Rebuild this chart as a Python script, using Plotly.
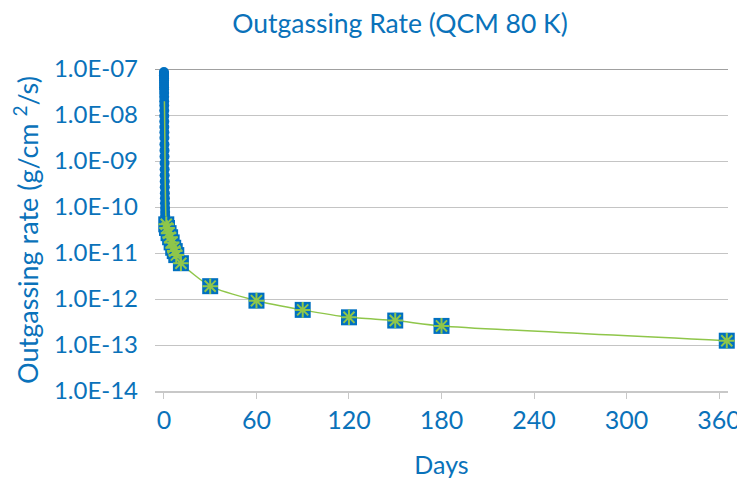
import plotly.graph_objects as go

# ---- data ----
circle_days = [0.00, 0.01, 0.02, 0.03, 0.04, 0.05, 0.06, 0.07, 0.08, 0.09, 0.10,
               0.12, 0.14, 0.16, 0.18, 0.20, 0.22, 0.24, 0.26, 0.28, 0.30,
               0.33, 0.36, 0.39, 0.42, 0.45, 0.48, 0.52, 0.56, 0.60, 0.64,
               0.68, 0.72, 0.76, 0.80, 0.85, 0.90, 0.95, 1.00, 1.05, 1.10,
               1.15, 1.20, 1.25, 1.30]
circle_rate = [8.6e-8, 8.2e-8, 7.8e-8, 7.3e-8, 6.8e-8, 6.2e-8, 5.6e-8, 5.0e-8, 4.5e-8, 4.0e-8, 3.6e-8,
               3.0e-8, 2.5e-8, 2.0e-8, 1.6e-8, 1.25e-8, 9.5e-9, 7.2e-9, 5.5e-9, 4.2e-9, 3.2e-9,
               2.3e-9, 1.7e-9, 1.25e-9, 9.0e-10, 6.6e-10, 4.9e-10, 3.6e-10, 2.7e-10, 2.0e-10, 1.55e-10,
               1.2e-10, 9.5e-11, 7.8e-11, 6.5e-11, 5.6e-11, 4.9e-11, 4.4e-11, 4.0e-11, 3.7e-11, 3.4e-11,
               3.2e-11, 3.0e-11, 2.9e-11, 2.8e-11]

early_line_days = [0.3, 0.4, 0.5, 0.6, 0.7, 0.8, 1.0, 1.2]
early_line_rate = [2.0e-8, 1.2e-8, 6.0e-9, 2.5e-9, 1.0e-9, 4.0e-10, 1.5e-10, 7.0e-11]

square_days = [1.5, 2, 3, 4, 5, 6, 7, 8, 11, 30, 60, 90, 120, 150, 180, 365]
square_rate = [4.2e-11, 3.5e-11, 2.7e-11, 2.2e-11, 1.7e-11, 1.3e-11, 1.1e-11, 9.0e-12, 6.0e-12,
               1.9e-12, 9.2e-13, 5.8e-13, 4.0e-13, 3.4e-13, 2.6e-13, 1.24e-13]

x_ticks = [0, 60, 120, 180, 240, 300, 360]
y_ticks = [1e-7, 1e-8, 1e-9, 1e-10, 1e-11, 1e-12, 1e-13, 1e-14]
y_tick_labels = ["1.0E-07", "1.0E-08", "1.0E-09", "1.0E-10", "1.0E-11",
                 "1.0E-12", "1.0E-13", "1.0E-14"]

BLUE = "#0070C0"
TEXT = "#0A72BA"
GREEN = "#8FC64A"
FONT = "Lato"

W, H = 737, 478  # page body has an 8px margin inside the 745x486 window

fig = go.Figure()

fig.add_trace(go.Scatter(
    x=circle_days, y=circle_rate, mode="markers", cliponaxis=False,
    marker=dict(symbol="circle", size=10, color=BLUE, line=dict(width=0)),
    showlegend=False, hoverinfo="skip"))

fig.add_trace(go.Scatter(
    x=early_line_days + square_days, y=early_line_rate + square_rate, mode="lines",
    line=dict(color=GREEN, width=1.5, shape="spline", smoothing=0.6),
    showlegend=False, hoverinfo="skip"))

fig.add_trace(go.Scatter(
    x=square_days, y=square_rate, mode="markers", cliponaxis=False,
    marker=dict(symbol="square", size=16, color=BLUE, line=dict(width=0)),
    showlegend=False, hoverinfo="skip"))

fig.add_trace(go.Scatter(
    x=square_days, y=square_rate, mode="markers", cliponaxis=False,
    marker=dict(symbol="asterisk-open", size=13, color=GREEN,
                line=dict(color=GREEN, width=2)),
    showlegend=False, hoverinfo="skip"))

fig.add_shape(type="line", xref="paper", yref="y", x0=0, x1=1, y0=1e-7, y1=1e-7,
              line=dict(color="#A0A0A0", width=2), layer="below")

fig.update_layout(
    width=W, height=H,
    margin=dict(l=147, r=17, t=61, b=95, autoexpand=False),
    paper_bgcolor="white", plot_bgcolor="white",
    font=dict(family=FONT, color=TEXT, size=24),
    title=dict(text="Outgassing Rate (QCM 80 K)", x=392 / W, xref="container",
               xanchor="center", y=1 - 16 / H, yanchor="middle",
               font=dict(family=FONT, size=26.5, color=TEXT)),
    xaxis=dict(range=[-5.8, 365.8], tickvals=x_ticks, ticktext=[str(v) for v in x_ticks],
               showgrid=False, zeroline=False, showline=True, linecolor="#C8C8C8",
               linewidth=1.5, ticks="outside", ticklen=6, tickcolor="#C8C8C8",
               tickfont=dict(size=25, color=TEXT), automargin=False,
               ticklabeloverflow="allow",
               title=dict(text="Days", font=dict(size=25, color=TEXT), standoff=24)),
    yaxis=dict(type="log", range=[-14, -7], tickvals=y_ticks, ticktext=y_tick_labels,
               showgrid=True, gridcolor="#C4C4C4", gridwidth=1.2, zeroline=False,
               showline=False, ticks="", tickfont=dict(size=24, color=TEXT),
               ticklabelstandoff=16, automargin=False,
               title=dict(text="Outgassing rate (g/cm <sup>2</sup>/s)",
                          font=dict(size=27, color=TEXT), standoff=8)),
)

fig.write_html("out.html")
